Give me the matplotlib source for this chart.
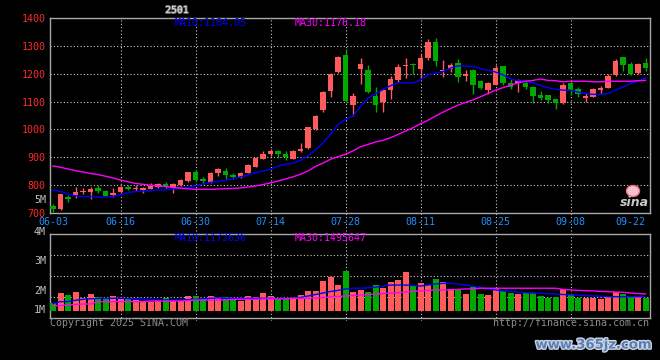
import matplotlib
matplotlib.use("Agg")
import matplotlib.pyplot as plt
import matplotlib.patheffects as pe
from matplotlib.patches import Ellipse

W, H = 660, 360

# daily candles, 06-03 .. 09-22 (80 trading days)
OPEN = [725, 714, 756, 765, 777, 774, 791, 780, 765, 774,
        795, 785, 784, 786, 792, 804, 789, 800, 815, 848,
        821, 809, 845, 851, 835, 830, 845, 866, 895, 911,
        921, 912, 895, 921, 932, 1002, 1068, 1139, 1205, 1268,
        1089, 1218, 1214, 1121, 1098, 1140, 1179, 1226, 1232, 1217,
        1255, 1313, 1208, 1218, 1238, 1193, 1212, 1173, 1141, 1161,
        1226, 1165, 1167, 1167, 1153, 1122, 1122, 1108, 1094, 1167,
        1146, 1114, 1118, 1141, 1147, 1196, 1259, 1235, 1202, 1240]
HIGH = [732, 770, 765, 792, 789, 795, 800, 782, 789, 797,
        800, 799, 795, 806, 809, 812, 806, 821, 848, 854,
        830, 847, 863, 862, 845, 848, 875, 902, 924, 929,
        926, 924, 925, 950, 1009, 1051, 1137, 1201, 1262, 1288,
        1131, 1257, 1232, 1152, 1145, 1193, 1236, 1258, 1240, 1269,
        1326, 1329, 1250, 1240, 1252, 1214, 1216, 1179, 1169, 1232,
        1228, 1181, 1181, 1179, 1155, 1138, 1122, 1108, 1167, 1173,
        1153, 1132, 1149, 1155, 1200, 1252, 1261, 1243, 1237, 1255]
LOW = [705, 712, 741, 755, 768, 750, 773, 761, 759, 771,
       783, 780, 773, 785, 789, 785, 773, 797, 813, 816,
       804, 807, 834, 821, 821, 824, 843, 864, 893, 905,
       898, 891, 893, 919, 930, 998, 1062, 1115, 1203, 1100,
       1050, 1164, 1131, 1062, 1064, 1111, 1171, 1183, 1200, 1185,
       1248, 1229, 1190, 1205, 1169, 1173, 1126, 1144, 1128, 1158,
       1161, 1144, 1134, 1146, 1096, 1106, 1096, 1075, 1093, 1122,
       1118, 1100, 1116, 1126, 1147, 1193, 1208, 1197, 1200, 1208]
CLOSE = [713, 768, 749, 777, 780, 785, 779, 762, 771, 792,
         787, 790, 790, 798, 804, 792, 804, 818, 847, 818,
         815, 845, 857, 836, 830, 845, 872, 899, 913, 921,
         911, 900, 921, 929, 1007, 1050, 1136, 1200, 1261, 1101,
         1121, 1236, 1133, 1089, 1143, 1181, 1223, 1233, 1230, 1257,
         1313, 1245, 1213, 1232, 1187, 1200, 1161, 1147, 1165, 1220,
         1167, 1153, 1176, 1153, 1120, 1112, 1106, 1096, 1161, 1141,
         1126, 1120, 1144, 1149, 1191, 1244, 1232, 1200, 1235, 1220]
MA10 = [783, 777, 768, 762, 759, 759, 757, 757, 759, 765,
        773, 777, 779, 780, 783, 783, 785, 789, 792, 798,
        804, 810, 814, 818, 822, 830, 836, 845, 851, 857,
        869, 875, 879, 889, 905, 926, 952, 982, 1018, 1036,
        1048, 1083, 1113, 1128, 1143, 1157, 1167, 1167, 1167, 1178,
        1196, 1202, 1208, 1220, 1228, 1228, 1226, 1218, 1212, 1206,
        1196, 1181, 1175, 1173, 1167, 1158, 1150, 1144, 1141, 1141,
        1134, 1129, 1126, 1126, 1129, 1141, 1153, 1165, 1173, 1184]
MA30 = [869, 864, 858, 852, 847, 842, 838, 832, 826, 818,
        812, 806, 803, 800, 797, 795, 792, 789, 787, 785,
        785, 785, 786, 787, 788, 790, 793, 797, 802, 808,
        815, 822, 830, 839, 851, 867, 879, 893, 902, 911,
        923, 938, 946, 955, 961, 970, 982, 994, 1006, 1020,
        1033, 1048, 1062, 1075, 1087, 1097, 1106, 1117, 1129, 1141,
        1150, 1158, 1167, 1173, 1176, 1181, 1176, 1175, 1171, 1173,
        1173, 1173, 1171, 1171, 1173, 1173, 1173, 1173, 1175, 1176]

# volume, millions of shares
VOLUME = [0.63, 1.49, 1.30, 1.54, 1.03, 1.38, 1.16, 0.95, 1.24, 1.03,
          1.08, 0.89, 0.81, 0.76, 0.81, 1.08, 0.84, 0.84, 1.24, 1.24,
          1.03, 1.24, 1.16, 1.16, 0.95, 0.81, 1.22, 1.11, 1.49, 1.24,
          1.08, 0.98, 0.98, 1.30, 1.63, 1.63, 2.44, 2.79, 2.11, 3.25,
          1.57, 1.71, 1.57, 2.11, 1.85, 2.38, 2.52, 3.20, 2.11, 2.30,
          2.11, 2.60, 2.38, 1.76, 1.71, 1.38, 1.93, 1.38, 1.30, 1.85,
          1.65, 1.49, 1.38, 1.44, 1.44, 1.24, 1.08, 1.16, 1.76, 1.38,
          1.08, 1.08, 1.08, 0.98, 1.24, 1.52, 1.38, 1.24, 1.16, 1.08]
VMA10 = [0.61, 0.76, 0.77, 0.87, 0.95, 0.99, 1.03, 1.03, 1.03, 1.03,
         1.02, 0.98, 0.98, 0.93, 0.89, 0.89, 0.89, 0.89, 0.93, 0.95,
         1.02, 1.03, 1.07, 1.03, 1.03, 1.03, 1.03, 1.03, 1.03, 1.03,
         1.03, 1.03, 1.03, 1.10, 1.22, 1.34, 1.46, 1.59, 1.67, 1.79,
         1.85, 1.85, 1.89, 1.93, 2.03, 2.11, 2.11, 2.11, 2.07, 2.03,
         2.11, 2.20, 2.25, 2.24, 2.20, 2.11, 2.03, 1.91, 1.79, 1.71,
         1.63, 1.59, 1.52, 1.49, 1.46, 1.44, 1.40, 1.37, 1.34, 1.32,
         1.28, 1.26, 1.22, 1.20, 1.16, 1.16, 1.16, 1.16, 1.16, 1.17]
VMA30 = [0.41, 0.45, 0.49, 0.53, 0.57, 0.57, 0.76, 0.76, 0.76, 0.76,
         0.76, 0.76, 0.76, 0.81, 0.81, 0.81, 0.81, 0.81, 0.84, 0.89,
         0.89, 0.89, 0.89, 0.89, 0.95, 0.95, 0.95, 0.95, 0.98, 0.98,
         0.98, 0.98, 1.03, 1.03, 1.03, 1.06, 1.10, 1.14, 1.18, 1.22,
         1.26, 1.30, 1.34, 1.38, 1.42, 1.46, 1.49, 1.54, 1.59, 1.63,
         1.67, 1.71, 1.69, 1.72, 1.76, 1.79, 1.81, 1.85, 1.85, 1.85,
         1.85, 1.85, 1.85, 1.85, 1.85, 1.85, 1.85, 1.85, 1.75, 1.71,
         1.68, 1.65, 1.63, 1.59, 1.57, 1.54, 1.52, 1.46, 1.42, 1.38]

DATE_LABELS = ["06-03", "06-16", "06-30", "07-14", "07-28", "08-11", "08-25", "09-08", "09-22"]
DATE_IDX = [0, 9, 19, 29, 39, 49, 59, 69, 79]
PRICE_TICKS = [700, 800, 900, 1000, 1100, 1200, 1300, 1400]
VOL_LABELS = ["5M", "4M", "3M", "2M", "1M"]
VOL_LABEL_Y = [200, 231.5, 260.5, 290.5, 310]

RED = "#FF5B5B"
GREEN = "#00A800"
GRID = "#C8C8C8"
FRAME = "#A8A8A8"
MONO = "DejaVu Sans Mono"
FS = 7.2


def rect(x0, y0, x1, y1):
    return [x0 / W, 1 - y1 / H, (x1 - x0) / W, (y1 - y0) / H]


def ftext(x, y, s, **kw):
    kw.setdefault("family", MONO)
    kw.setdefault("fontsize", FS)
    kw.setdefault("va", "center")
    return fig.text(x / W, 1 - y / H, s, **kw)


fig = plt.figure(figsize=(W / 100, H / 100), dpi=100, facecolor="black")
n = len(CLOSE)
xs = list(range(n))
xlim = (-0.4, n - 0.4)
colors = [RED if c >= o else GREEN for o, c in zip(OPEN, CLOSE)]

# vertical dotted grid running through both panels
ax_bg = fig.add_axes(rect(50, 18, 650, 321))
ax_bg.set_xlim(*xlim)
ax_bg.set_ylim(0, 1)
ax_bg.axis("off")
for i in DATE_IDX[1:-1]:
    ax_bg.axvline(i, color=GRID, lw=0.8, ls=(0, (1, 2)))

# price panel
ax = fig.add_axes(rect(50, 18, 650, 213))
ax.set_facecolor("none")
ax.set_xlim(*xlim)
ax.set_ylim(700, 1400)
ax.set_yticks(PRICE_TICKS)
ax.set_yticklabels([str(p) for p in PRICE_TICKS], family=MONO, fontsize=FS, color="#FF2A2A")
ax.set_xticks(DATE_IDX)
ax.set_xticklabels(DATE_LABELS, family=MONO, fontsize=FS, color="#1E90FF")
ax.get_xticklabels()[-1].set_ha("right")
ax.get_yticklabels()[0].set_va("center_baseline")
ax.tick_params(axis="y", length=0, pad=3)
ax.tick_params(axis="x", length=0, pad=3)
ax.grid(axis="y", color=GRID, lw=0.8, ls=(0, (1, 2)))
for sp in ax.spines.values():
    sp.set_color(FRAME)
    sp.set_linewidth(1)

ax.vlines(xs, LOW, HIGH, colors=colors, lw=1, zorder=3)
bottoms = [min(o, c) for o, c in zip(OPEN, CLOSE)]
heights = [max(abs(c - o), 3.5) for o, c in zip(OPEN, CLOSE)]
ax.bar(xs, heights, bottom=bottoms, width=0.76, color=colors, zorder=3)
ax.plot(xs, MA10, color="#0000FF", lw=1, zorder=4)
ax.plot(xs, MA30, color="#FF00FF", lw=1, zorder=4)

# volume panel
axv = fig.add_axes(rect(50, 234, 650, 318))
axv.set_facecolor("none")
axv.set_xlim(*xlim)
axv.set_ylim(-0.57, 6.26)
axv.set_xticks([])
axv.set_yticks([])
for sp in axv.spines.values():
    sp.set_color(FRAME)
    sp.set_linewidth(1)
for f in (0.25, 0.5, 0.75):
    axv.plot([0, 1], [f, f], transform=axv.transAxes, color=GRID, lw=0.8, ls=(0, (1, 2)))
axv.bar(xs, VOLUME, width=0.8, color=colors, zorder=3)
axv.plot(xs, VMA10, color="#0000FF", lw=1, zorder=4)
axv.plot(xs, VMA30, color="#FF00FF", lw=1, zorder=4)

for lab, y in zip(VOL_LABELS, VOL_LABEL_Y):
    ftext(46, y, lab, color="#C0C0C0", ha="right")

# header texts
ftext(177, 10, "2501", color="#E0E0E0", ha="center", fontsize=7,
      path_effects=[pe.withStroke(linewidth=1.2, foreground="#707070")])
ftext(175, 23.5, "MA10:1184.05", color="#0000FF")
ftext(295, 23.5, "MA30:1176.18", color="#FF00FF")
ftext(175, 238, "MA10:1172636", color="#0000FF")
ftext(295, 238, "MA30:1495647", color="#FF00FF")

ftext(50, 323.5, "Copyright 2025 SINA.COM", color="#8C8C8C")
ftext(649, 323.5, "http://finance.sina.com.cn", color="#8C8C8C", ha="right")

# sina logo
fig.add_artist(Ellipse((633 / W, 1 - 191 / H), 13 / W, 11 / H, transform=fig.transFigure,
                       facecolor="#F6C0CC", edgecolor="#E8708A", lw=1))
ftext(634, 202, "sina", family="DejaVu Sans", fontsize=9, weight="bold", style="italic",
      color="#C8C8C8", ha="center")

# watermark
ftext(594, 345, "www.365jz.com", family="DejaVu Sans", fontsize=9.5, weight="bold",
      color="#5B7FB5", ha="center",
      path_effects=[pe.withStroke(linewidth=2, foreground="#C9D3E3")])

fig.savefig("out.png", dpi=100, facecolor="black")
